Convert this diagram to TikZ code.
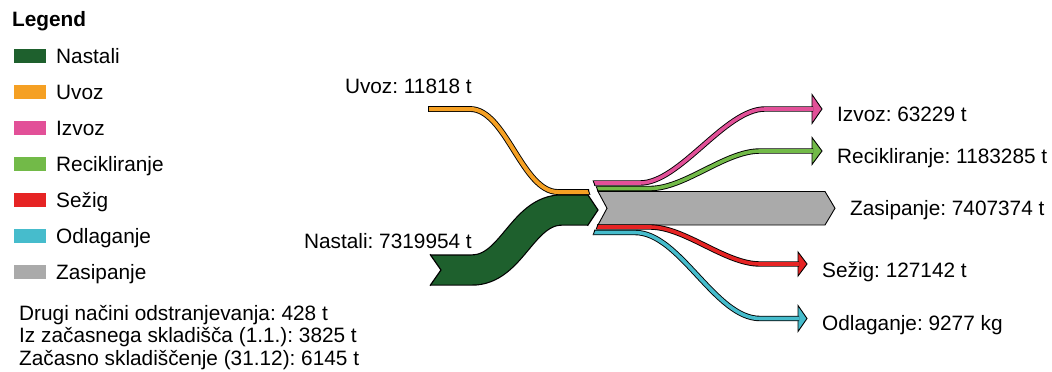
\documentclass[tikz,border=0pt]{standalone}
\usepackage{fontspec}
\setmainfont{Liberation Sans}
\frenchspacing
\usetikzlibrary{positioning}

\definecolor{nastali}{RGB}{30,96,45}
\definecolor{uvoz}{RGB}{245,160,35}
\definecolor{izvoz}{RGB}{226,80,152}
\definecolor{reciklaza}{RGB}{114,186,72}
\definecolor{sezig}{RGB}{230,36,36}
\definecolor{odlaganje}{RGB}{70,188,204}
\definecolor{zasipanje}{RGB}{170,170,170}

\begin{document}
\begin{tikzpicture}[x=1pt, y=-1pt,
    lbl/.style={inner sep=0pt, font=\fontsize{20.8}{25}\selectfont},
    swatch/.style={minimum width=32pt, minimum height=14pt, inner sep=0pt},
    band/.style={draw=black, double=#1, double distance=3.6pt, line width=0.9pt},
    head/.style={fill=#1, draw=black, line width=0.9pt, line join=miter}]
  \useasboundingbox (0,0) rectangle (1052,372);

  % Legenda
  \node[lbl, anchor=base west, font=\bfseries\fontsize{20.8}{25}\selectfont] (legend) at (12,27) {Legend};
  \foreach \col/\txt [count=\i from 0] in {nastali/Nastali, uvoz/Uvoz, izvoz/Izvoz, reciklaza/Recikliranje, sezig/Sežig, odlaganje/Odlaganje, zasipanje/Zasipanje} {
    \node[swatch, fill=\col] (sw\i) at (30,{56+36*\i}) {};
    \node[lbl, anchor=base west] (lg\i) at (56,{63.4+36*\i}) {\txt};
  }

  % Opombe spodaj
  \node[lbl, anchor=base west] (drugi) at (19,320) {Drugi načini odstranjevanja: 428 t};
  \node[lbl, anchor=base west] (izskl) at (19,342.5) {Iz začasnega skladišča (1.1.): 3825 t};
  \node[lbl, anchor=base west] (zacasno) at (19,365) {Začasno skladiščenje (31.12): 6145 t};

  % Nastali
  \coordinate (nastali-l) at (430,270);
  \coordinate (nastali-r) at (588,210);
  \draw[band=nastali, double distance=29pt, line width=1.2pt] (nastali-l) -- (472,270) .. controls (512,270) and (522,210) .. (562,210) -- (nastali-r);
  \fill[white] (429,253) -- (441,270) -- (429,287) -- cycle;
  \draw[line width=1.2pt, line join=miter] (430,254.3) -- (441,270) -- (430,285.7);
  \filldraw[fill=nastali, line width=1.2pt, line join=miter] (587.5,194.3) -- (598,210) -- (587.5,225.7);

  % Uvoz
  \coordinate (uvoz-l) at (428,109);
  \coordinate (uvoz-r) at (589,192);
  \draw[band=uvoz, double distance=4pt] (uvoz-l) -- (470,109) .. controls (506,109) and (522,192) .. (558,192) -- (uvoz-r);
  \draw[line width=0.9pt] (428,106.1) -- (428,111.9);
  \draw[line width=0.9pt] (588,189.1) -- (590,194.9);

  % Zasipanje
  \filldraw[fill=zasipanje, line width=0.9pt, line join=miter] (598,191.5) -- (825,191.5) -- (835,208.25) -- (825,225) -- (598,225) -- (607,208.25) -- cycle;
  \node[lbl, anchor=base west] (zasipanje-t) at (850,215) {Zasipanje: 7407374 t};

  % Izvoz
  \coordinate (izvoz-l) at (594,183);
  \coordinate (izvoz-r) at (813,109);
  \draw[head=izvoz] (812,94.5) -- (822,109) -- (812,123.5) -- cycle;
  \draw[band=izvoz] (izvoz-l) -- (640,183) .. controls (680,183) and (725,109) .. (765,109) -- (izvoz-r);
  \draw[line width=0.9pt] (593,180.3) -- (595,185.7);
  \node[lbl, anchor=base west] (izvoz-t) at (837,121.5) {Izvoz: 63229 t};

  % Recikliranje
  \coordinate (reciklaza-l) at (597,188.5);
  \coordinate (reciklaza-r) at (813,151);
  \draw[head=reciklaza] (812,137.5) -- (822,151) -- (812,164.5) -- cycle;
  \draw[band=reciklaza] (reciklaza-l) -- (650,188.5) .. controls (685,188.5) and (725,151) .. (760,151) -- (reciklaza-r);
  \draw[line width=0.9pt] (596,185.8) -- (598,191.2);
  \node[lbl, anchor=base west] (reciklaza-t) at (837,163) {Recikliranje: 1183285 t};

  % Sezig
  \coordinate (sezig-l) at (597,227);
  \coordinate (sezig-r) at (799,264);
  \draw[head=sezig] (798,252) -- (807,264) -- (798,276) -- cycle;
  \draw[band=sezig] (sezig-l) -- (650,227) .. controls (685,227) and (725,264) .. (760,264) -- (sezig-r);
  \draw[line width=0.9pt] (598,224.3) -- (596,229.7);
  \node[lbl, anchor=base west] (sezig-t) at (822,277) {Sežig: 127142 t};

  % Odlaganje
  \coordinate (odlaganje-l) at (594,232.5);
  \coordinate (odlaganje-r) at (799,318.5);
  \draw[head=odlaganje] (798,305.5) -- (807,318.5) -- (798,331.5) -- cycle;
  \draw[band=odlaganje] (odlaganje-l) -- (635,232.5) .. controls (680,232.5) and (715,318.5) .. (760,318.5) -- (odlaganje-r);
  \draw[line width=0.9pt] (595,229.8) -- (593,235.2);
  \node[lbl, anchor=base west] (odlaganje-t) at (822,330) {Odlaganje: 9277 kg};

  % Oznake vhodov
  \node[lbl, anchor=base east] (uvoz-t) at (472,93) {Uvoz: 11818 t};
  \node[lbl, anchor=base east] (nastali-t) at (472,248) {Nastali: 7319954 t};
\end{tikzpicture}
\end{document}
